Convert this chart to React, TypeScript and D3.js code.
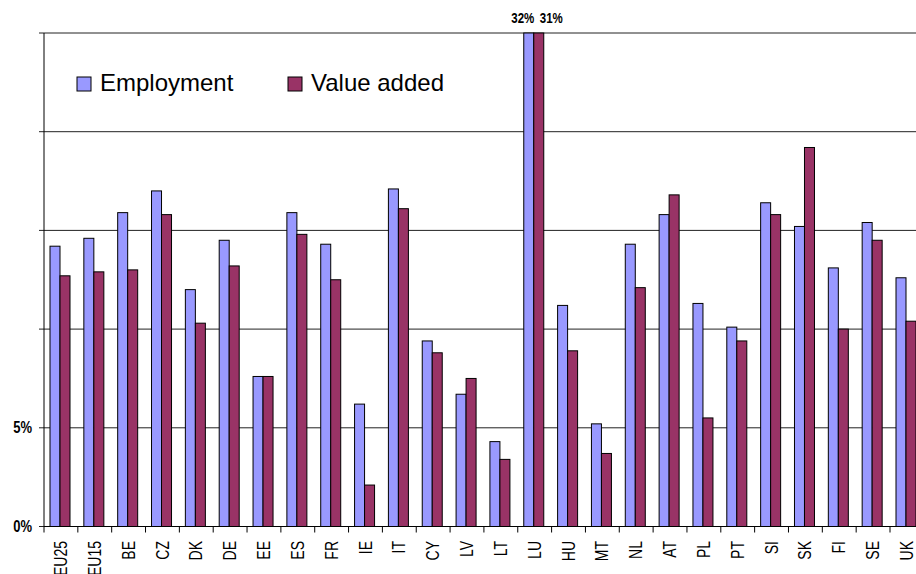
import React from 'react';
import * as d3 from 'd3';

// countries along the x axis
const categories = ['EU25', 'EU15', 'BE', 'CZ', 'DK', 'DE', 'EE', 'ES', 'FR', 'IE', 'IT', 'CY', 'LV', 'LT', 'LU', 'HU', 'MT', 'NL', 'AT', 'PL', 'PT', 'SI', 'SK', 'FI', 'SE', 'UK'];
const seriesNames = ['Employment', 'Value added'];
const employment = [14.2, 14.6, 15.9, 17.0, 12.0, 14.5, 7.6, 15.9, 14.3, 6.2, 17.1, 9.4, 6.7, 4.3, 32, 11.2, 5.2, 14.3, 15.8, 11.3, 10.1, 16.4, 15.2, 13.1, 15.4, 12.6];
const valueAdded = [12.7, 12.9, 13.0, 15.8, 10.3, 13.2, 7.6, 14.8, 12.5, 2.1, 16.1, 8.8, 7.5, 3.4, 31, 8.9, 3.7, 12.1, 16.8, 5.5, 9.4, 15.8, 19.2, 10.0, 14.5, 10.4];
const yGrid = [0, 5, 10, 15, 20, 25];
const yTickLabels = ['0%', '5%'];
const colors = ['#9999FF', '#993366'];

const App = () => {
  const width = 916;
  const height = 574;
  const left = 44;
  const bottom = 526.5;
  const top = 33;
  const step = 33.84;

  const x = d3.scaleBand().domain(categories).range([left, left + step * categories.length]).padding(0);
  const xs = d3.scaleBand().domain(seriesNames).range([6, 26]).padding(0);
  const y = d3.scaleLinear().domain([0, 25]).range([bottom, top]);
  const values = [employment, valueAdded];
  const font = '"Liberation Sans", Arial, sans-serif';

  return (
    <svg width={width} height={height} style={{ position: 'absolute', left: 0, top: 0, background: '#fff' }}>
      {/* gridlines */}
      {yGrid.map((g) => (
        <line key={'g' + g} x1={left - 5} x2={width} y1={y(g)} y2={y(g)} stroke="#222" strokeWidth={1} />
      ))}
      {/* bars */}
      {categories.map((c, i) => (
        <g key={c}>
          {seriesNames.map((s, k) => {
            const v = values[k][i];
            const yt = Math.max(y(v), y(25));
            return (
              <rect key={s} x={x(c) + xs(s)} y={yt} width={xs.bandwidth()} height={bottom - yt}
                fill={colors[k]} stroke="#000" strokeWidth={1} />
            );
          })}
        </g>
      ))}
      {/* axes */}
      <line x1={left} x2={left} y1={top} y2={bottom} stroke="#000" />
      <line x1={left} x2={width} y1={bottom} y2={bottom} stroke="#000" />
      {d3.range(categories.length + 1).map((i) => (
        <line key={'t' + i} x1={left + step * i} x2={left + step * i} y1={bottom} y2={bottom + 6} stroke="#000" />
      ))}
      {yTickLabels.map((t, i) => (
        <text key={t} transform={`translate(32,${y(yGrid[i])}) scale(1,1.2)`} textAnchor="end" dominantBaseline="central"
          fontFamily={font} fontWeight="bold" fontSize={13}>{t}</text>
      ))}
      {categories.map((c) => (
        <text key={'l' + c} transform={`translate(${x(c) + x.bandwidth() / 2},541) rotate(-90) scale(1,1.25)`}
          textAnchor="end" dominantBaseline="central" fontFamily={font} fontSize={14}>{c}</text>
      ))}
      {/* labels for clipped LU bars */}
      {categories.map((c, i) => employment[i] > 25 ? (
        <g key={'o' + c} fontFamily={font} fontWeight="bold" fontSize={11.5}>
          <text transform={`translate(${x(c) + xs('Employment') + xs.bandwidth() + 0.5},23) scale(1,1.2)`} textAnchor="end">
            {Math.round(employment[i]) + '%'}
          </text>
          <text transform={`translate(${x(c) + xs('Value added') + 6},23) scale(1,1.2)`} textAnchor="start">
            {Math.round(valueAdded[i]) + '%'}
          </text>
        </g>
      ) : null)}
      {/* legend */}
      {seriesNames.map((s, k) => {
        const lx = k === 0 ? 77 : 288;
        return (
          <g key={'lg' + s}>
            <rect x={lx} y={77} width={14} height={14} fill={colors[k]} stroke="#000" />
            <text x={lx + 23} y={91} fontFamily={font} fontSize={24}>{s}</text>
          </g>
        );
      })}
    </svg>
  );
};

export default App;
